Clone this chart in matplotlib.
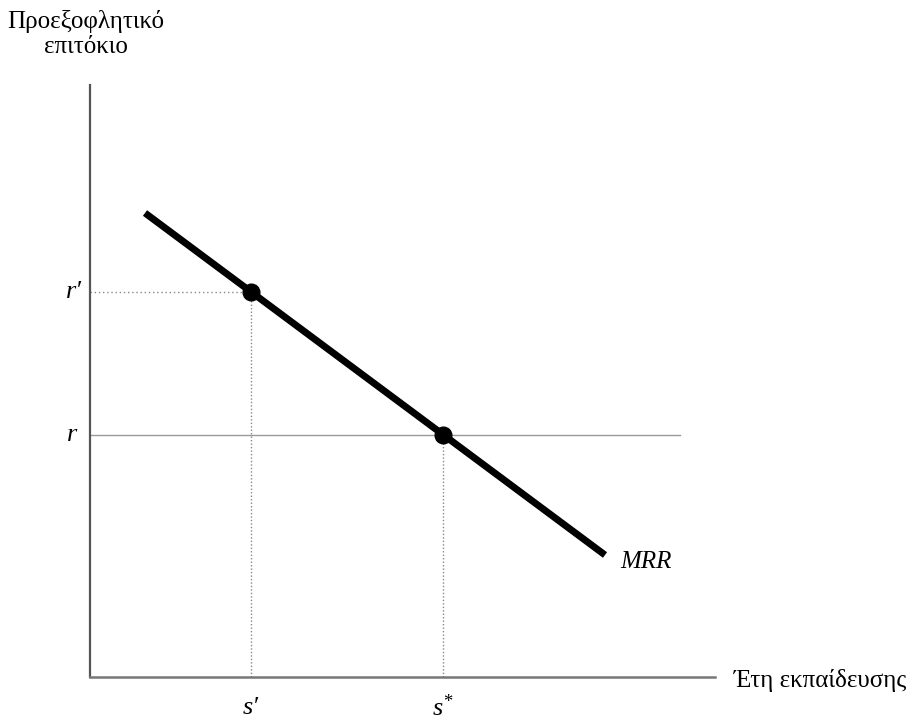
import matplotlib
matplotlib.use("Agg")
import matplotlib.pyplot as plt

# ----------
# Data (arbitrary units: years of schooling vs discount rate)
mrr_x = [0.55, 5.15]
mrr_y = [4.64, 1.22]

s_prime, s_star = 1.61, 3.53
r_prime, r_rate = 3.85, 2.42
r_line_end = 5.90

x_max, y_max = 6.25, 5.92

y_label = "Προεξοφλητικό\nεπιτόκιο"
x_label = "Έτη εκπαίδευσης"
# ----------

plt.rcParams['font.family'] = ['Liberation Serif', 'DejaVu Serif']
plt.rcParams['mathtext.fontset'] = 'custom'
plt.rcParams['mathtext.it'] = 'Liberation Serif:italic'
plt.rcParams['mathtext.rm'] = 'Liberation Serif'

fig = plt.figure(figsize=(9.14, 7.2), dpi=100, facecolor='white')
ax = fig.add_axes([90 / 914, 43 / 720, 625 / 914, 592 / 720])

ax.set_xlim(0, x_max)
ax.set_ylim(0, y_max)
ax.spines['right'].set_visible(False)
ax.spines['top'].set_visible(False)
ax.spines['left'].set_color('#555555')
ax.spines['bottom'].set_color('#777777')
ax.spines['left'].set_linewidth(1.6)
ax.spines['bottom'].set_linewidth(1.8)
ax.set_xticks([])
ax.set_yticks([])

# guide lines
ax.plot([0, r_line_end], [r_rate, r_rate], color='#999999', lw=1.0, zorder=1)
ax.plot([0, s_prime], [r_prime, r_prime], color='#888888', lw=1.0, ls=(0, (1, 2)), zorder=1)
ax.plot([s_prime, s_prime], [0, r_prime], color='#888888', lw=1.0, ls=(0, (1, 1.5)), zorder=1)
ax.plot([s_star, s_star], [0, r_rate], color='#888888', lw=1.0, ls=(0, (1, 1.5)), zorder=1)

# MRR curve and points
ax.plot(mrr_x, mrr_y, color='black', lw=5, solid_capstyle='butt', zorder=2)
ax.plot([s_prime, s_star], [r_prime, r_rate], 'o', color='black', ms=12, zorder=3)

ax.text(mrr_x[1] + 0.15, mrr_y[1] - 0.07, "MRR", style='italic', fontsize=18,
        ha='left', va='center')

# tick-like labels
ax.text(-0.08, r_prime, "r′", style='italic', fontsize=19, ha='right', va='center')
ax.text(-0.13, r_rate, "r", style='italic', fontsize=19, ha='right', va='center')
ax.text(s_prime, -0.31, "s′", style='italic', fontsize=19, ha='center', va='center')
ax.text(s_star, -0.31, r"$s^{*}$", fontsize=19, ha='center', va='center')

# axis titles
fig.text(86 / 914, 1 - 34 / 720, y_label, fontsize=18, ha='center', va='center',
         linespacing=1.2)
fig.text(734 / 914, 1 - 680 / 720, x_label, fontsize=18, ha='left', va='center')

fig.savefig('out.png', dpi=100, facecolor='white')
